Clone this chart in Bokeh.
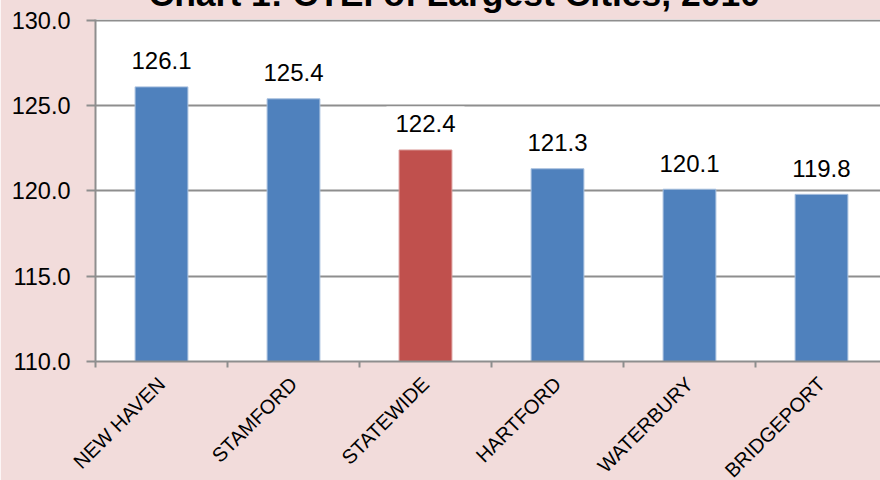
import math
from bokeh.plotting import figure
from bokeh.models import Range1d, FixedTicker, NumeralTickFormatter, Label, ColumnDataSource
from bokeh.embed import file_html
from bokeh.resources import INLINE

# ---- data ----
cities = ["NEW HAVEN", "STAMFORD", "STATEWIDE", "HARTFORD", "WATERBURY", "BRIDGEPORT"]
ctei = [126.1, 125.4, 122.4, 121.3, 120.1, 119.8]
bar_colors = ["#4F81BD", "#4F81BD", "#C0504D", "#4F81BD", "#4F81BD", "#4F81BD"]
y_ticks = [110, 115, 120, 125, 130]
title_text = "Chart 1: CTEI of Largest Cities, 2010"

FONT = "Liberation Sans"
GRAY = "#8E8E8E"

centers = [i + 0.5 for i in range(len(cities))]
bounds = [float(i) for i in range(len(cities) + 1)]

# the original chart's title is cut off at the top edge and its last
# category name at the bottom edge: shift the canvas up, let it run past the bottom
SHIFT = 41
p = figure(width=880, height=480 + SHIFT + 12, output_backend="svg", toolbar_location=None,
           x_range=Range1d(0, 5.947), y_range=Range1d(110, 130.05),
           min_border_left=95, min_border_top=19 + SHIFT, min_border_bottom=118,
           min_border_right=0, margin=(-SHIFT, 0, 0, 0))
p.border_fill_color = "#F2DCDB"
p.background_fill_color = "white"
p.outline_line_color = None

p.title.text = title_text
p.title.text_font = FONT
p.title.text_font_size = "35.5px"
p.title.text_font_style = "bold"
p.title.text_color = "black"
p.title.align = "left"
p.title.offset = 53
p.title.standoff = 11

src = ColumnDataSource(dict(x=centers, top=ctei, color=bar_colors,
                            line=["#A7BFDE" if c == "#4F81BD" else "#D99694" for c in bar_colors]))
p.vbar(x="x", top="top", bottom=110, width=0.4, source=src, fill_color="color",
       line_color="line", line_width=1)

# grid
p.xgrid.visible = False
p.ygrid.ticker = FixedTicker(ticks=y_ticks)
p.ygrid.grid_line_color = GRAY
p.ygrid.grid_line_width = 2
p.ygrid.level = "underlay"

# y axis
ya = p.yaxis[0]
ya.ticker = FixedTicker(ticks=y_ticks)
ya.formatter = NumeralTickFormatter(format="0.0")
ya.axis_line_color = GRAY
ya.axis_line_width = 2
ya.major_tick_line_color = GRAY
ya.major_tick_line_width = 2
ya.major_tick_out = 9
ya.major_tick_in = 0
ya.minor_tick_line_color = None
ya.major_label_standoff = 16
ya.major_label_text_font = FONT
ya.major_label_text_font_size = "23.5px"
ya.major_label_text_color = "black"

# x axis: names centred on the bars, ticks on category boundaries
xa = p.xaxis[0]
xa.ticker = FixedTicker(ticks=centers, minor_ticks=bounds)
xa.major_label_overrides = {c: n for c, n in zip(centers, cities)}
xa.axis_line_color = GRAY
xa.axis_line_width = 2
xa.major_tick_line_color = None
xa.major_tick_out = 0
xa.major_tick_in = 0
xa.minor_tick_line_color = GRAY
xa.minor_tick_line_width = 2
xa.minor_tick_out = 6
xa.minor_tick_in = 0
xa.major_label_orientation = math.pi / 4
xa.major_label_standoff = 13
xa.major_label_text_font = FONT
xa.major_label_text_font_size = "20px"
xa.major_label_text_line_height = 0.6
xa.major_label_text_color = "black"

# value labels
for x, v in zip(centers, ctei):
    p.add_layout(Label(x=x, y=v, y_offset=26, text=f"{v:.1f}", text_align="center",
                       text_baseline="alphabetic", text_font=FONT, text_font_size="24px",
                       text_color="black", background_fill_color="white", padding=9))

open("out.html", "w").write(file_html(p, INLINE))
